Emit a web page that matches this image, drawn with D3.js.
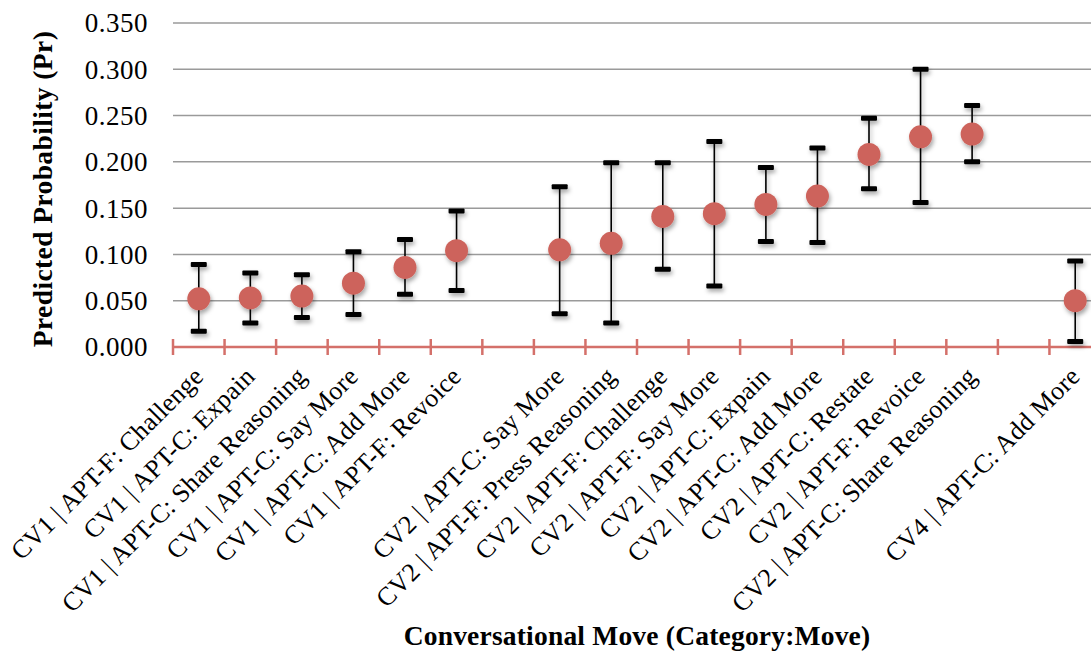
<!DOCTYPE html>
<html>
<head>
<meta charset="utf-8">
<script src="https://cdn.jsdelivr.net/npm/d3@7"></script>
<style>
  body { margin: 0; background: #fff; }
  svg { display: block; }
  text { font-family: "Liberation Serif", "Times New Roman", serif; fill: #000; }
</style>
</head>
<body>
<svg id="chart"></svg>
<script>
// categories (blank slots separate the CV groups)
const categories = [
  "CV1 | APT-F: Challenge",
  "CV1 | APT-C: Expain",
  "CV1 | APT-C: Share Reasoning",
  "CV1 | APT-C: Say More",
  "CV1 | APT-C: Add More",
  "CV1 | APT-F: Revoice",
  "",
  "CV2 | APT-C: Say More",
  "CV2 | APT-F: Press Reasoning",
  "CV2 | APT-F: Challenge",
  "CV2 | APT-F: Say More",
  "CV2 | APT-C: Expain",
  "CV2 | APT-C: Add More",
  "CV2 | APT-C: Restate",
  "CV2 | APT-F: Revoice",
  "CV2 | APT-C: Share Reasoning",
  "",
  "CV4 | APT-C: Add More"
];
const predicted = [0.052, 0.053, 0.055, 0.069, 0.086, 0.104, null, 0.105, 0.112, 0.141, 0.144, 0.154, 0.163, 0.208, 0.227, 0.230, null, 0.050];
const upper     = [0.089, 0.080, 0.078, 0.103, 0.116, 0.147, null, 0.173, 0.199, 0.199, 0.222, 0.194, 0.215, 0.247, 0.300, 0.261, null, 0.093];
const lower     = [0.017, 0.026, 0.032, 0.035, 0.057, 0.061, null, 0.036, 0.026, 0.084, 0.066, 0.114, 0.113, 0.171, 0.156, 0.200, null, 0.006];
const yTicks = [0, 0.05, 0.1, 0.15, 0.2, 0.25, 0.3, 0.35];

const width = 1091, height = 657;
const margin = { left: 173, top: 23, bottom: 310 };
const plotRight = 1101;
const plotBottom = height - margin.bottom;

const svg = d3.select('#chart').attr('width', width).attr('height', height);

const defs = svg.append('defs');
const shadow = defs.append('filter').attr('id', 'shadow')
  .attr('x', '-50%').attr('y', '-50%').attr('width', '200%').attr('height', '200%');
shadow.append('feDropShadow')
  .attr('dx', 1.5).attr('dy', 3).attr('stdDeviation', 2)
  .attr('flood-color', '#000').attr('flood-opacity', 0.35);

const idx = d3.range(categories.length);
const x = d3.scaleBand().domain(idx).range([margin.left, plotRight]);
const y = d3.scaleLinear().domain([0, 0.35]).range([plotBottom, margin.top]);

// gridlines
svg.append('g')
  .selectAll('line')
  .data(yTicks.filter(d => d > 0))
  .enter()
  .append('line')
  .attr('x1', margin.left).attr('x2', width)
  .attr('y1', d => y(d)).attr('y2', d => y(d))
  .attr('stroke', '#9a9a9a').attr('stroke-width', 1.5);

// y tick labels
svg.append('g')
  .selectAll('text')
  .data(yTicks)
  .enter()
  .append('text')
  .attr('x', 148)
  .attr('y', d => y(d))
  .attr('dy', '0.35em')
  .attr('text-anchor', 'end')
  .style('font-size', '27px')
  .style('letter-spacing', '0.5px')
  .text(d => d3.format('.3f')(d));

// x axis line with crossing ticks
const axisColor = '#d4706a';
svg.append('line')
  .attr('x1', margin.left).attr('x2', width)
  .attr('y1', plotBottom).attr('y2', plotBottom)
  .attr('stroke', axisColor).attr('stroke-width', 2.5);
svg.append('g')
  .selectAll('line')
  .data(d3.range(categories.length + 1))
  .enter()
  .append('line')
  .attr('x1', i => i < categories.length ? x(i) : x(i - 1) + x.bandwidth())
  .attr('x2', i => i < categories.length ? x(i) : x(i - 1) + x.bandwidth())
  .attr('y1', plotBottom - 8).attr('y2', plotBottom + 8)
  .attr('stroke', axisColor).attr('stroke-width', 2.5);

// category labels
svg.append('g')
  .selectAll('text')
  .data(idx.filter(i => categories[i] !== ''))
  .enter()
  .append('text')
  .attr('transform', i => `translate(${x(i) + x.bandwidth() / 2 + 6},${plotBottom + 31}) rotate(-45)`)
  .attr('text-anchor', 'end')
  .style('font-size', '26px')
  .style('letter-spacing', '0.2px')
  .text(i => categories[i]);

// error bars + points
const pts = idx.filter(i => predicted[i] !== null);
const marks = svg.append('g').attr('filter', 'url(#shadow)');
marks.selectAll('line.err')
  .data(pts)
  .enter()
  .append('line')
  .attr('class', 'err')
  .attr('x1', i => x(i) + x.bandwidth() / 2).attr('x2', i => x(i) + x.bandwidth() / 2)
  .attr('y1', i => y(upper[i])).attr('y2', i => y(lower[i]))
  .attr('stroke', '#000').attr('stroke-width', 1.6);
marks.selectAll('rect.cap')
  .data(pts.flatMap(i => [{ i, v: upper[i] }, { i, v: lower[i] }]))
  .enter()
  .append('rect')
  .attr('class', 'cap')
  .attr('x', d => x(d.i) + x.bandwidth() / 2 - 8)
  .attr('y', d => y(d.v) - 2.5)
  .attr('width', 16).attr('height', 5)
  .attr('rx', 1)
  .attr('fill', '#000');
marks.selectAll('circle')
  .data(pts)
  .enter()
  .append('circle')
  .attr('cx', i => x(i) + x.bandwidth() / 2)
  .attr('cy', i => y(predicted[i]))
  .attr('r', 11.5)
  .attr('fill', '#cd635b');

// axis titles
svg.append('text')
  .attr('transform', `translate(${637},${645})`)
  .attr('text-anchor', 'middle')
  .style('font-size', '27.5px').style('font-weight', 'bold')
  .style('letter-spacing', '0.2px')
  .text('Conversational Move (Category:Move)');

svg.append('text')
  .attr('transform', `translate(${52},${189}) rotate(-90)`)
  .attr('text-anchor', 'middle')
  .style('font-size', '27.5px').style('font-weight', 'bold')
  .style('letter-spacing', '0.4px')
  .text('Predicted Probability (Pr)');
</script>
</body>
</html>
